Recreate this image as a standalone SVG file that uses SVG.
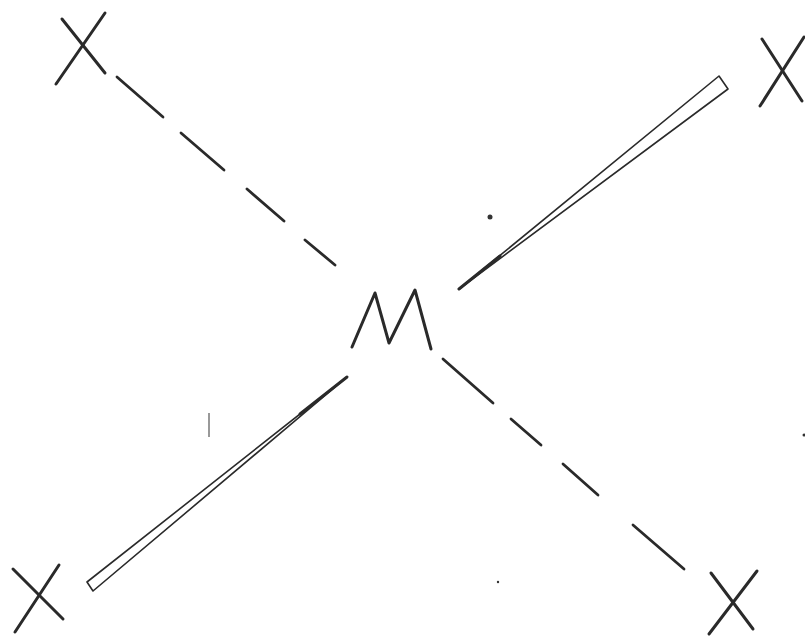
<svg xmlns="http://www.w3.org/2000/svg" width="805" height="637" viewBox="0 0 805 637">
<style>
.pen{fill:none;stroke:#2a2a2a;stroke-width:3;stroke-linecap:round;stroke-linejoin:round}
.dash{fill:none;stroke:#2a2a2a;stroke-width:2.8;stroke-linecap:round}
.wedge{fill:#ffffff;stroke:#2a2a2a;stroke-width:1.6;stroke-linejoin:round}
.speck{fill:#333}
</style>
<rect width="805" height="637" fill="#ffffff"/>
<g id="connectors">
<g id="bond-ul-dashed">
<line class="dash" x1="117" y1="77" x2="163" y2="117"/>
<line class="dash" x1="181" y1="133" x2="224" y2="170"/>
<line class="dash" x1="247" y1="189" x2="284" y2="221"/>
<line class="dash" x1="305" y1="240" x2="335" y2="265"/>
</g>
<g id="bond-lr-dashed">
<line class="dash" x1="443" y1="359" x2="493" y2="403"/>
<line class="dash" x1="511" y1="419" x2="541" y2="445"/>
<line class="dash" x1="563" y1="464" x2="598" y2="495"/>
<line class="dash" x1="633" y1="525" x2="684" y2="569"/>
</g>
<g id="bond-ur-wedge">
<polygon class="wedge" points="459,289 719,76 728,89"/>
<line class="pen" x1="459" y1="289" x2="500" y2="256" stroke-width="2.4"/>
</g>
<g id="bond-ll-wedge">
<polygon class="wedge" points="347,377 87,582 93,591"/>
<line class="pen" x1="347" y1="377" x2="300" y2="414" stroke-width="2.4"/>
</g>
</g>
<g id="M">
<polyline class="pen" points="352,347 375,293 389,343 415,290 431,349"/>
</g>
<g id="X-upper-left">
<line class="pen" x1="62" y1="19" x2="105" y2="73"/>
<line class="pen" x1="105" y1="13" x2="56" y2="84"/>
</g>
<g id="X-upper-right">
<line class="pen" x1="762" y1="39" x2="802" y2="101"/>
<line class="pen" x1="804" y1="37" x2="760" y2="106"/>
</g>
<g id="X-lower-left">
<line class="pen" x1="13" y1="569" x2="63" y2="619"/>
<line class="pen" x1="59" y1="565" x2="15" y2="632"/>
</g>
<g id="X-lower-right">
<line class="pen" x1="711" y1="573" x2="753" y2="629"/>
<line class="pen" x1="757" y1="571" x2="709" y2="634"/>
</g>
<g id="specks">
<circle class="speck" cx="490" cy="217" r="2.5"/>
<line x1="209" y1="413" x2="209" y2="437" stroke="#555" stroke-width="1.2"/>
<circle class="speck" cx="804" cy="435" r="1.5"/>
<circle class="speck" cx="498" cy="582" r="1.2"/>
</g>
</svg>
